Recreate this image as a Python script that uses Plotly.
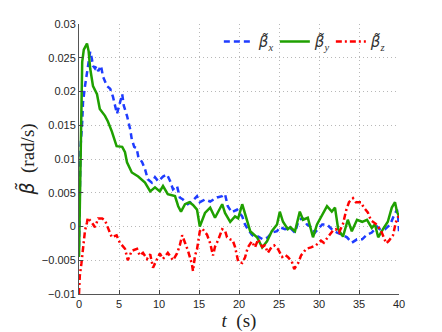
import plotly.graph_objects as go

# ---- data ----
t_x = [0, 0.1, 0.2, 0.4, 0.5, 0.75, 1.0, 1.2, 1.4, 1.6, 1.75, 2.0, 2.2, 2.4, 2.75, 3.0, 3.5, 3.9, 4.25, 4.75,
       5.1, 5.4, 5.6, 6.0, 6.4, 6.6, 6.9, 7.2, 7.4, 7.9, 8.25, 8.6, 9.1, 9.5, 9.9, 10.5, 11.0, 11.4, 11.75,
       12.25, 12.6, 13.0, 13.6, 14.1, 14.75, 15.1, 15.75, 16.4, 17.25, 17.9, 18.25, 18.6, 19.1, 19.75, 20.4,
       20.75, 21.1, 21.6, 22.0, 22.4, 23.0, 23.6, 24.1, 24.75, 25.1, 25.75, 26.4, 27.0, 27.4, 27.9, 28.5,
       28.9, 29.5, 29.9, 30.4, 31.0, 31.6, 32.25, 32.9, 33.5, 34.1, 34.75, 35.4, 36.0, 36.6, 37.25, 37.6,
       38.25, 38.9, 39.25, 39.75, 39.9, 40.0]
beta_x = [-0.003, 0.005, 0.0119, 0.0155, 0.0184, 0.0208, 0.0229, 0.0238, 0.0259, 0.0249, 0.0238, 0.0234,
          0.0238, 0.023, 0.0238, 0.0222, 0.0208, 0.0204, 0.0192, 0.0167, 0.0182, 0.0196, 0.0179, 0.0164,
          0.0144, 0.0129, 0.0118, 0.0116, 0.0104, 0.0095, 0.0085, 0.007, 0.0065, 0.0073, 0.0067, 0.0074,
          0.0077, 0.0067, 0.0055, 0.006, 0.0043, 0.004, 0.0033, 0.0037, 0.0045, 0.0036, 0.004, 0.0037,
          0.0043, 0.0045, 0.0048, 0.003, 0.0021, 0.0025, 0.0015, 0.0003, -0.0004, -0.0012, -0.0016, -0.0015,
          -0.0019, -0.0016, -0.0009, -0.0007, -0.0001, -0.0004, -0.0002, -0.0009, 0.0007, 0.0013, 0.0003,
          0.0, -0.0009, -0.0004, 0.0003, 0.0003, -0.0004, -0.0009, -0.0012, -0.0016, -0.0024, -0.0019,
          -0.0019, -0.0012, -0.0009, 0.0, -0.0004, -0.0004, 0.0003, 0.0013, 0.0025, 0.0013, -0.0007]

t_y = [0, 0.15, 0.3, 0.4, 0.6, 1.0, 1.2, 1.4, 1.75, 2.25, 2.6, 3.25, 3.6, 4.1, 4.7, 5.4, 5.75, 6.0, 6.6, 7.4,
       8.25, 8.9, 9.5, 10.1, 10.5, 11.1, 12.0, 12.4, 12.75, 13.25, 13.8, 14.25, 14.75, 15.1, 15.75, 16.4,
       17.0, 17.9, 18.25, 18.9, 19.5, 19.9, 20.4, 21.0, 21.4, 22.25, 22.9, 23.5, 24.1, 24.75, 25.1, 25.5,
       26.1, 26.4, 27.0, 27.6, 28.0, 28.6, 29.25, 29.75, 30.5, 31.0, 31.6, 32.0, 32.4, 33.0, 33.6, 34.1,
       34.75, 35.4, 36.0, 36.6, 37.0, 37.4, 38.0, 38.6, 39.1, 39.5, 39.75, 40.0]
beta_y = [-0.0045, 0.005, 0.018, 0.0244, 0.0262, 0.0271, 0.026, 0.0234, 0.0208, 0.0196, 0.0174, 0.0164,
          0.0156, 0.0141, 0.0119, 0.0118, 0.011, 0.0095, 0.008, 0.0074, 0.0065, 0.0052, 0.0058, 0.0052,
          0.006, 0.0048, 0.0045, 0.003, 0.0022, 0.0033, 0.0036, 0.0032, 0.0025, 0.0, 0.002, 0.0028, 0.0013,
          0.0033, 0.002, 0.0007, 0.0015, 0.0012, 0.0033, 0.001, -0.0007, -0.0016, -0.0031, -0.0022, -0.0007,
          0.0003, 0.0022, 0.0007, -0.0004, -0.0001, -0.0007, 0.0022, 0.001, 0.0013, -0.0016, 0.0003, 0.0018,
          0.003, 0.0022, 0.0028, -0.0004, -0.0015, 0.001, -0.0007, 0.001, 0.0007, 0.001, -0.0002, 0.0003,
          -0.0016, -0.0004, 0.0007, 0.0028, 0.0036, 0.0022, 0.0015]

t_z = [0, 0.1, 0.3, 0.5, 0.75, 1.0, 1.1, 1.6, 2.0, 2.4, 2.9, 3.25, 3.6, 4.1, 4.7, 5.1, 5.75, 6.1, 6.6, 7.25,
       7.6, 8.0, 8.5, 8.9, 9.25, 9.75, 10.1, 10.5, 11.1, 11.75, 12.25, 12.6, 12.9, 13.25, 13.6, 14.1, 14.25,
       14.5, 14.75, 15.1, 15.4, 16.0, 16.4, 16.75, 17.0, 17.4, 17.9, 18.25, 18.5, 18.9, 19.2, 19.5, 19.9,
       20.4, 20.75, 21.1, 21.6, 22.0, 22.4, 22.9, 23.25, 23.6, 24.1, 24.4, 24.9, 25.4, 25.75, 26.1, 26.6,
       26.9, 27.4, 27.75, 28.4, 29.0, 29.6, 30.25, 30.6, 31.1, 31.75, 32.1, 32.5, 33.0, 33.4, 33.75, 34.25,
       34.6, 35.25, 35.6, 36.1, 36.5, 37.1, 37.75, 38.4, 38.75, 39.25, 39.6, 40.0]
beta_z = [-0.01, -0.0073, -0.0055, -0.0033, -0.0006, 0.0006, 0.0013, 0.0006, -0.0001, 0.0012, 0.0012, 0.0009,
          -0.0002, -0.0016, -0.0013, -0.0024, -0.0033, -0.005, -0.0036, -0.0033, -0.0043, -0.0039, -0.0048,
          -0.0041, -0.0061, -0.0048, -0.004, -0.0048, -0.0039, -0.005, -0.004, -0.0028, -0.0013, -0.0024,
          -0.0035, -0.0055, -0.0066, -0.0043, -0.0034, -0.0007, -0.0003, -0.0012, -0.0025, -0.0043, -0.003,
          -0.002, -0.0004, -0.0006, -0.0016, -0.0019, -0.002, -0.003, -0.0052, -0.0054, -0.0046, -0.0031,
          -0.0022, -0.0031, -0.0019, -0.003, -0.0028, -0.0039, -0.003, -0.0028, -0.0034, -0.0045, -0.0042,
          -0.0045, -0.0052, -0.0063, -0.0054, -0.0043, -0.0033, -0.0031, -0.0028, -0.0021, -0.0024, -0.0016,
          -0.0006, -0.0004, -0.0009, 0.0004, 0.0024, 0.0036, 0.0042, 0.0036, 0.0036, 0.0028, 0.0021, 0.0009,
          0.0004, -0.0006, -0.0025, -0.0021, -0.0013, 0.0006, 0.0016]

x_ticks = [0, 5, 10, 15, 20, 25, 30, 35, 40]
y_ticks = [-0.01, -0.005, 0, 0.005, 0.01, 0.015, 0.02, 0.025, 0.03]
y_tick_text = ["\u22120.01", "\u22120.005", "0", "0.005", "0.01", "0.015", "0.02", "0.025", "0.03"]

BETA = '<span style="font-family:DejaVu Sans"><i>β\u0303</i></span>'
names = [BETA + '<sub><i>x</i></sub>', BETA + '<sub><i>y</i></sub>', BETA + '<sub><i>z</i></sub>']

serif = "Liberation Serif, serif"

fig = go.Figure()
fig.add_trace(go.Scatter(x=t_x, y=beta_x, mode="lines", name=names[0],
                         line=dict(color="#1f3cff", width=2.5, dash="6px,4px")))
fig.add_trace(go.Scatter(x=t_y, y=beta_y, mode="lines", name=names[1],
                         line=dict(color="#1fa000", width=2.5)))
fig.add_trace(go.Scatter(x=t_z, y=beta_z, mode="lines", name=names[2],
                         line=dict(color="#ff0000", width=2.5, dash="6px,3px,2px,3px")))

axis_font = dict(family="Liberation Sans, Arial, sans-serif", size=11, color="#262626")
grid_common = dict(showgrid=True, gridcolor="#b8b8b8", griddash="1px,3px", gridwidth=1, zeroline=False,
                   ticks="inside", ticklen=4, tickcolor="#444", showline=True, linecolor="#555",
                   linewidth=1, tickfont=axis_font, automargin=False)
# the page body has an 8px margin, so the figure is 8px smaller and margins shifted
fig.update_layout(
    width=434, height=324,
    margin=dict(l=71, r=43, t=16, b=38),
    paper_bgcolor="white", plot_bgcolor="white",
    showlegend=True,
    legend=dict(orientation="h", x=0.437, xanchor="left", y=0.995, yanchor="top",
                bgcolor="rgba(0,0,0,0)", font=dict(family=serif, size=15, color="#333"),
                itemwidth=30, tracegroupgap=0, entrywidth=11, entrywidthmode="pixels"),
    xaxis=dict(range=[0, 40], tickvals=x_ticks,
               title=dict(text="<i>t</i>  (s)", font=dict(family=serif, size=19, color="#222"), standoff=2),
               **grid_common),
    yaxis=dict(range=[-0.01, 0.03], tickvals=y_ticks, ticktext=y_tick_text,
               title=dict(text=BETA + '  (rad/s)',
                          font=dict(family=serif, size=19, color="#222"), standoff=2),
               **grid_common),
)

fig.write_html("out.html")
